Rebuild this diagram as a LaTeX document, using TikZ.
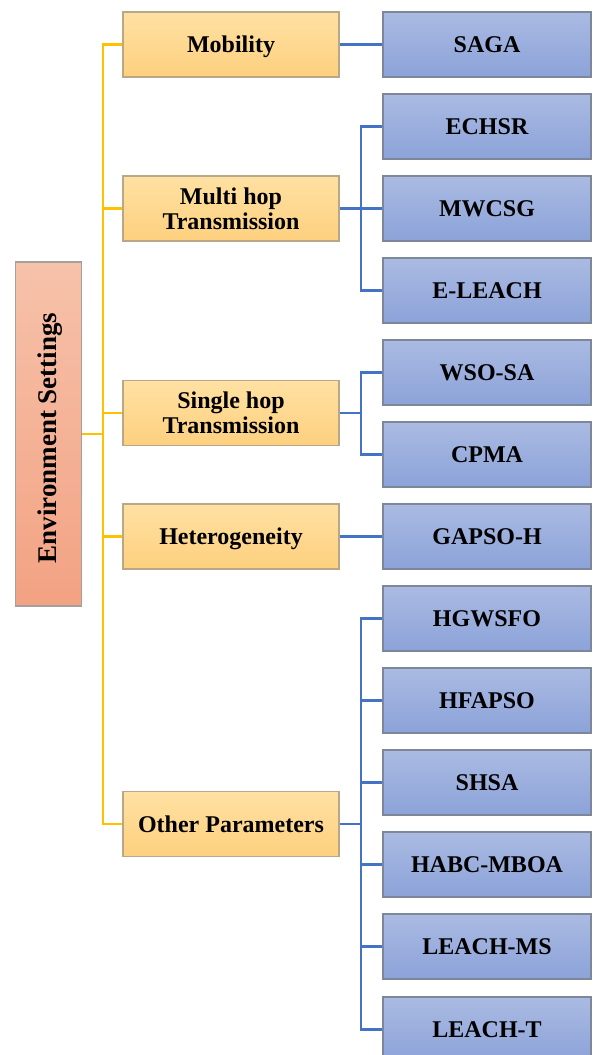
\documentclass[tikz,border=0pt]{standalone}
\usepackage{fontspec}
\setmainfont{Liberation Serif}
\begin{document}
\begin{tikzpicture}[x=1pt,y=-1pt,
  every node/.style={font=\bfseries\fontsize{24}{25}\selectfont, align=center, inner sep=0pt},
  capcentred/.style={text height=16pt, text depth=0pt},
  twolines/.style={text height=41pt, text depth=0pt},
  rootbox/.style={draw=rootedge, line width=1.3pt, top color=roottop, bottom color=rootbot,
    minimum width=66pt, minimum height=344pt},
  midbox/.style={draw=midedge, line width=1.3pt, top color=midtop, bottom color=midbot,
    minimum width=216pt, minimum height=65pt, capcentred},
  leafbox/.style={draw=leafedge, line width=1.3pt, top color=leaftop, bottom color=leafbot,
    minimum width=208pt, minimum height=65pt, capcentred},
  ylink/.style={draw=ylw, line width=2.4pt, line join=miter},
  blink/.style={draw=blu, line width=2.4pt, line join=miter}]
\definecolor{roottop}{HTML}{F6C2AA}
\definecolor{rootbot}{HTML}{F3A283}
\definecolor{rootedge}{HTML}{A5A09E}
\definecolor{midtop}{HTML}{FFE1A3}
\definecolor{midbot}{HTML}{FDD07E}
\definecolor{midedge}{HTML}{B9A888}
\definecolor{leaftop}{HTML}{AABAE2}
\definecolor{leafbot}{HTML}{8CA3D9}
\definecolor{leafedge}{HTML}{7D8799}
\definecolor{ylw}{HTML}{FFC000}
\definecolor{blu}{HTML}{4472C4}

\clip (0,0) rectangle (592,1055);
\useasboundingbox (0,0) rectangle (592,1055);

% root
\node[rootbox] (root) at (48.5,434) {};
\node[rotate=90, font=\bfseries\fontsize{27}{28}\selectfont, text height=18pt, text depth=0pt]
  (roottxt) at (47.5,438) {Environment Settings};

% second level
\node[midbox] (mob) at (231,44.5) {Mobility};
\node[midbox, twolines] (multi) at (231,208.5) {Multi hop\\Transmission};
\node[midbox, twolines] (single) at (231,413) {Single hop\\Transmission};
\node[midbox] (het) at (231,536.5) {Heterogeneity};
\node[midbox] (other) at (231,824) {Other Parameters};

% leaves
\node[leafbox] (saga) at (487,44.5) {SAGA};
\node[leafbox] (echsr) at (487,126.5) {ECHSR};
\node[leafbox] (mwcsg) at (487,208.5) {MWCSG};
\node[leafbox] (eleach) at (487,290.5) {E-LEACH};
\node[leafbox] (wsosa) at (487,372.5) {WSO-SA};
\node[leafbox] (cpma) at (487,454.5) {CPMA};
\node[leafbox] (gapso) at (487,536.5) {GAPSO-H};
\node[leafbox] (hgwsfo) at (487,618.5) {HGWSFO};
\node[leafbox] (hfapso) at (487,700.5) {HFAPSO};
\node[leafbox] (shsa) at (487,782.5) {SHSA};
\node[leafbox] (habc) at (487,864.5) {HABC-MBOA};
\node[leafbox] (leachms) at (487,946.5) {LEACH-MS};
\node[leafbox] (leacht) at (487,1029.5) {LEACH-T};

% yellow trunk from the root
\coordinate (trunk) at (103,434);
\draw[ylink] (root.east) -- (trunk);
\foreach \m in {mob,multi,single,het,other}
  \draw[ylink] (trunk) |- (\m.west);

% blue branches to the leaves
\draw[blink] (mob.east) -- (saga.west);
\draw[blink] (het.east) -- (gapso.west);

\coordinate (busA) at (361,208.5);
\draw[blink] (multi.east) -- (busA);
\foreach \l in {echsr,mwcsg,eleach}
  \draw[blink] (busA) |- (\l.west);

\coordinate (busB) at (361,413);
\draw[blink] (single.east) -- (busB);
\foreach \l in {wsosa,cpma}
  \draw[blink] (busB) |- (\l.west);

\coordinate (busC) at (361,824);
\draw[blink] (other.east) -- (busC);
\foreach \l in {hgwsfo,hfapso,shsa,habc,leachms,leacht}
  \draw[blink] (busC) |- (\l.west);
\end{tikzpicture}
\end{document}
